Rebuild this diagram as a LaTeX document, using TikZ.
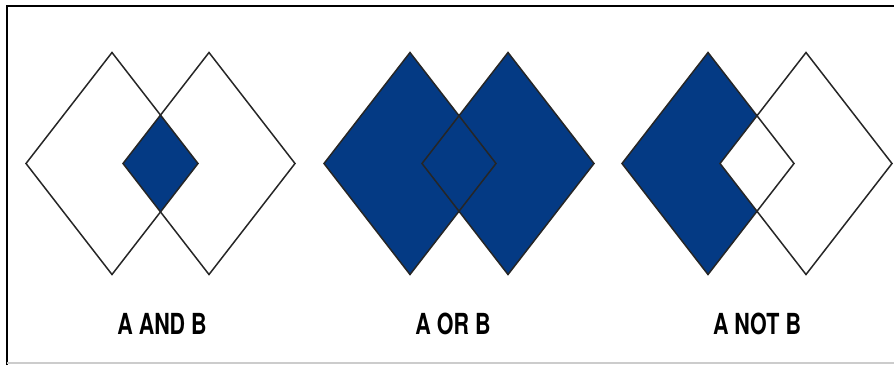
\documentclass[tikz,border=0pt]{standalone}
\usepackage{fontspec}
\setmainfont{TeX Gyre Heros}
\usetikzlibrary{positioning}

\definecolor{vennblue}{RGB}{4,58,132}

% one diamond round a centre, 86 wide and 111 high each way
\newcommand{\rhombus}[1]{(#1) +(-86,0) -- +(0,-111) -- +(86,0) -- +(0,111) -- cycle}

\begin{document}
\begin{tikzpicture}[x=0.5pt, y=-0.5pt,
	outline/.style={draw=black!85, line width=0.75pt},
	shade/.style={fill=vennblue},
	caption/.style={font=\bfseries\fontsize{14.5}{14.5}\selectfont, xscale=0.74, inner sep=0pt}]
	
	\useasboundingbox (0,0) rectangle (894,365);
	
	% frame
	\draw[line width=1.3pt] (7,365) -- (7,6) -- (894,6);
	\draw[black!20, line width=0.6pt] (7,363) -- (894,363);
	
	\coordinate (and_a) at (112,163.5);
	\coordinate (and_b) at (209,163.5);
	\coordinate (or_a) at (410,163.5);
	\coordinate (or_b) at (508,163.5);
	\coordinate (not_a) at (708,163.5);
	\coordinate (not_b) at (806,163.5);
	
	% A AND B
	\begin{scope}
		\clip \rhombus{and_a};
		\fill[shade] \rhombus{and_b};
	\end{scope}
	\draw[outline] \rhombus{and_a};
	\draw[outline] \rhombus{and_b};
	
	% A OR B
	\fill[shade] \rhombus{or_a};
	\fill[shade] \rhombus{or_b};
	\draw[outline] \rhombus{or_a};
	\draw[outline] \rhombus{or_b};
	
	% A NOT B
	\fill[shade] \rhombus{not_a};
	\fill[white] \rhombus{not_b};
	\draw[outline] \rhombus{not_a};
	\draw[outline] \rhombus{not_b};
	
	\node[caption] (and_label) at (162,324) {A AND B};
	\node[caption] (or_label) at (453,324) {A OR B};
	\node[caption] (not_label) at (757,324) {A NOT B};
\end{tikzpicture}
\end{document}
